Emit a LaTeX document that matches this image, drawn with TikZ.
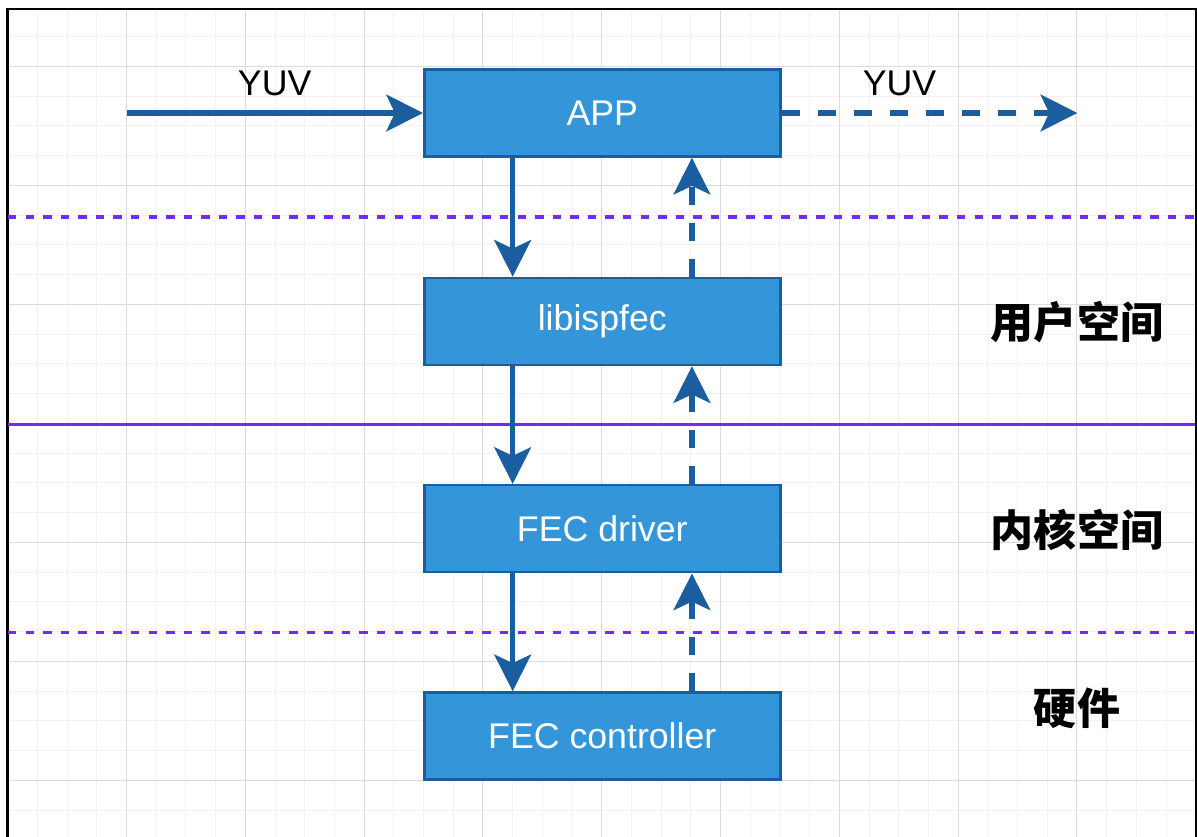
\documentclass[tikz,border=0pt]{standalone}
\usepackage{fontspec}
\setmainfont{Liberation Sans}
\newfontfamily\cjk{Noto Sans CJK SC}
\usetikzlibrary{arrows.meta,calc}

\definecolor{boxfill}{RGB}{52,150,216}
\definecolor{boxline}{RGB}{26,94,160}
\definecolor{sepline}{RGB}{112,44,245}
\definecolor{gridminor}{RGB}{242,242,242}
\definecolor{gridmajor}{RGB}{220,220,220}

\tikzset{
	box/.style={draw=boxline,fill=boxfill,line width=1.8pt,minimum width=8.9cm,minimum height=2.175cm,inner sep=0pt,text=white,font=\fontsize{25.4}{30}\selectfont},
	flow/.style={draw=boxline,line width=4pt,-{Stealth[length=26pt,width=26pt,inset=6pt]}},
	back/.style={flow,dash pattern=on 12.8pt off 12.8pt},
	sep/.style={draw=sepline,line width=2.4pt},
	layer/.style={font=\cjk\bfseries\fontsize{30.6}{36}\selectfont},
}

\begin{document}
\begin{tikzpicture}[x=0.25cm,y=-0.25cm]
	\useasboundingbox (0,0) rectangle (119.7,83.7);
	
	% grid paper
	\begin{scope}
		\clip (0.73,0.93) rectangle (119.6,83.7);
		\foreach \i in {0,...,40} {
			\draw[gridminor,line width=0.7pt] ({0.77+2.97*\i},0) -- ++(0,84);
			\draw[gridminor,line width=0.7pt] (0,{0.68+2.975*\i}) -- ++(120,0);
		}
		\foreach \i in {0,...,10} {
			\draw[gridmajor,line width=0.7pt] ({0.77+11.88*\i},0) -- ++(0,84);
			\draw[gridmajor,line width=0.7pt] (0,{6.63+11.9*\i}) -- ++(120,0);
		}
	\end{scope}
	
	% frame
	\draw[line width=2.2pt] (0.73,83.7) -- (0.73,0.93);
	\draw[line width=1.6pt] (0.6,0.93) -- (119.6,0.93) -- (119.6,83.7);
	
	% layer borders
	\draw[sep,line width=2.8pt,dash pattern=on 6pt off 6.5pt] (0.8,21.67) -- (119.5,21.67);
	\draw[sep] (0.8,42.43) -- (119.5,42.43);
	\draw[sep,line width=2.8pt,dash pattern=on 6pt off 6.5pt] (0.8,63.25) -- (119.5,63.25);
	
	% blocks
	\node[box] (app) at (60.23,11.3) {APP};
	\node[box] (lib) at (60.23,32.15) {libispfec};
	\node[box] (drv) at (60.23,52.87) {FEC driver};
	\node[box] (ctrl) at (60.23,73.6) {FEC controller};
	
	% input and output
	\coordinate (src) at (12.67,11.3);
	\coordinate (sink) at (107.73,11.3);
	\draw[flow] (src) -- (app.west);
	\draw[back] (app.east) -- (sink);
	\node (yuvin) at (27.47,8.3) {\fontsize{25.4}{30}\selectfont YUV};
	\node (yuvout) at (89.96,8.3) {\fontsize{25.4}{30}\selectfont YUV};
	
	% down calls
	\draw[flow] ($(app.south west)!.25!(app.south east)$) -- ($(lib.north west)!.25!(lib.north east)$);
	\draw[flow] ($(lib.south west)!.25!(lib.south east)$) -- ($(drv.north west)!.25!(drv.north east)$);
	\draw[flow] ($(drv.south west)!.25!(drv.south east)$) -- ($(ctrl.north west)!.25!(ctrl.north east)$);
	
	% returns
	\draw[back] ($(lib.north west)!.75!(lib.north east)$) -- ($(app.south west)!.75!(app.south east)$);
	\draw[back] ($(drv.north west)!.75!(drv.north east)$) -- ($(lib.south west)!.75!(lib.south east)$);
	\draw[back] ($(ctrl.north west)!.75!(ctrl.north east)$) -- ($(drv.south west)!.75!(drv.south east)$);
	
	\node[layer] (user) at (107.7,32.17) {用户空间};
	\node[layer] (kernel) at (107.7,53.0) {内核空间};
	\node[layer] (hw) at (107.7,70.8) {硬件};
\end{tikzpicture}
\end{document}
